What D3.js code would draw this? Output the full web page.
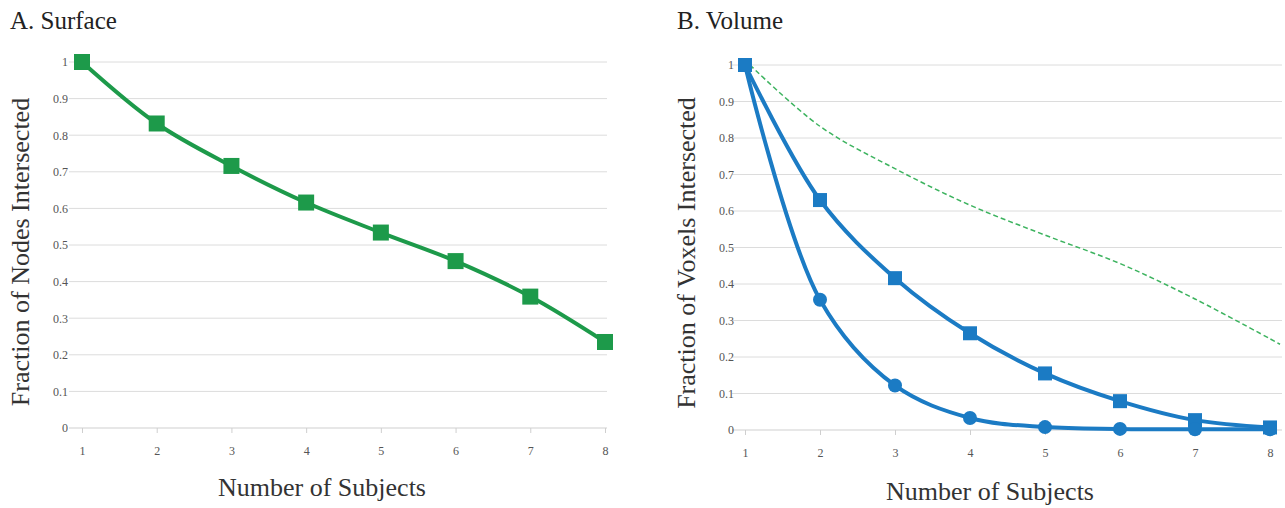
<!DOCTYPE html>
<html><head><meta charset="utf-8">
<script src="https://cdn.jsdelivr.net/npm/d3@7"></script>
<style>body{margin:0;background:#fff}svg{display:block}</style>
</head><body>
<svg id="c" width="1285" height="508"></svg>
<script>
const subjects = [1,2,3,4,5,6,7,8];
const yTicks = [0,0.1,0.2,0.3,0.4,0.5,0.6,0.7,0.8,0.9,1];
const surfaceNodes = [1.0,0.832,0.716,0.616,0.534,0.456,0.359,0.235];
const volumeSquares = [1.0,0.63,0.416,0.265,0.155,0.079,0.027,0.007];
const volumeCircles = [1.0,0.357,0.122,0.033,0.008,0.003,0.002,0.002];

const svg = d3.select("#c");
const serif = "'Liberation Serif','DejaVu Serif',serif";
const green = "#1d9a4a", blue = "#1b7bc4";

function panel(o){
  const x = d3.scaleLinear().domain([1,8]).range([o.x0,o.x1]);
  const y = d3.scaleLinear().domain([0,1]).range([o.y0,o.y1]);
  const g = svg.append("g");
  g.append("text").attr("x",o.tx).attr("y",29).attr("font-family",serif).attr("font-size",25).attr("fill","#222").text(o.title);
  // grid
  g.selectAll(".grid").data(yTicks.filter(d=>d>0)).enter().append("line")
    .attr("x1",o.x0-13).attr("x2",o.gx).attr("y1",d=>y(d)).attr("y2",d=>y(d))
    .attr("stroke","#dcdcdc").attr("stroke-width",1);
  // bottom axis
  const xa = d3.axisBottom(x).tickValues(subjects).tickSize(5).tickPadding(13).tickFormat(d3.format("d"));
  const xg = g.append("g").attr("transform",`translate(0,${y(0)})`).call(xa);
  xg.select(".domain").attr("stroke","#cfcfcf").attr("d",`M${o.x0-13},0H${o.gx}`);
  xg.selectAll(".tick line").attr("stroke","#cfcfcf");
  xg.selectAll("text").attr("font-family",serif).attr("font-size",12).attr("fill","#555");
  const ya = d3.axisLeft(y).tickValues(yTicks).tickSize(0).tickPadding(o.pad).tickFormat(d=>d3.format("")(d));
  const yg = g.append("g").attr("transform",`translate(${o.x0},0)`).call(ya);
  yg.select(".domain").remove();
  yg.selectAll("text").attr("font-family",serif).attr("font-size",12).attr("fill","#555");
  g.append("text").attr("x",o.xlX).attr("y",o.xlY).attr("text-anchor","middle")
    .attr("font-family",serif).attr("font-size",26).attr("fill","#333").text("Number of Subjects");
  g.append("text").attr("transform",`translate(${o.ylX},${o.ylY}) rotate(-90)`).attr("text-anchor","middle")
    .attr("font-family",serif).attr("font-size",26).attr("fill","#333").text(o.ylab);
  return {g,x,y};
}

// Panel A
const A = panel({x0:82,x1:605,gx:607,y0:428,y1:62,tx:10,title:"A. Surface",pad:14,xlX:322,xlY:496,ylX:29,ylY:252,ylab:"Fraction of Nodes Intersected"});
const lineA = d3.line().x((d,i)=>A.x(subjects[i])).y(d=>A.y(d)).curve(d3.curveCatmullRom.alpha(0.5));
A.g.append("path").datum(surfaceNodes).attr("d",lineA).attr("fill","none").attr("stroke",green).attr("stroke-width",4);
A.g.selectAll(".sq").data(surfaceNodes).enter().append("rect")
  .attr("x",(d,i)=>A.x(subjects[i])-8).attr("y",d=>A.y(d)-8).attr("width",16).attr("height",16).attr("fill",green);

// Panel B
const B = panel({x0:745,x1:1270,gx:1282,y0:430,y1:65,tx:677,title:"B. Volume",pad:11,xlX:990,xlY:500,ylX:695,ylY:253,ylab:"Fraction of Voxels Intersected"});
const lineB = d3.line().x((d,i)=>B.x(subjects[i])).y(d=>B.y(d)).curve(d3.curveCatmullRom.alpha(0.5));
const lineBg = d3.line().x((d,i)=>B.x(subjects[i])+ (i===0?5:(i===7?10:0))).y(d=>B.y(d)).curve(d3.curveCatmullRom.alpha(0.5));
B.g.append("path").datum(surfaceNodes).attr("d",lineBg).attr("fill","none").attr("stroke","#3db35f").attr("stroke-width",1.5).attr("stroke-dasharray","5,3");
B.g.append("path").datum(volumeSquares).attr("d",lineB).attr("fill","none").attr("stroke",blue).attr("stroke-width",4);
B.g.append("path").datum(volumeCircles).attr("d",lineB).attr("fill","none").attr("stroke",blue).attr("stroke-width",4);
B.g.selectAll(".sq").data(volumeSquares).enter().append("rect")
  .attr("x",(d,i)=>B.x(subjects[i])-7).attr("y",d=>B.y(d)-7).attr("width",14).attr("height",14).attr("fill",blue);
B.g.selectAll(".ci").data(volumeCircles.slice(1)).enter().append("circle")
  .attr("cx",(d,i)=>B.x(subjects[i+1])).attr("cy",d=>B.y(d)).attr("r",7).attr("fill",blue);
</script>
</body></html>
